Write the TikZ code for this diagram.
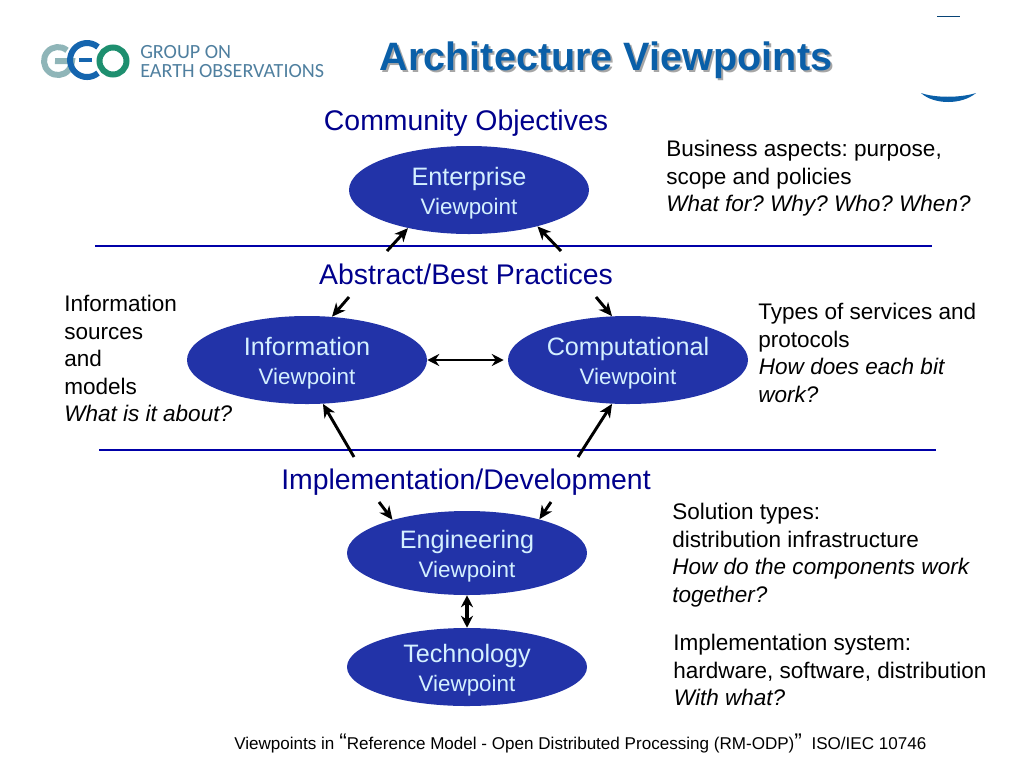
\documentclass[tikz,border=0pt]{standalone}
\usepackage{fontspec}
\setmainfont{Liberation Sans}
\newfontfamily\logofont{Carlito}
\usetikzlibrary{arrows.meta}
\usetikzlibrary{shapes.geometric}
\definecolor{vpblue}{HTML}{2233A8}
\definecolor{vptext}{HTML}{D4F0FF}
\definecolor{headblue}{HTML}{00008C}
\definecolor{ruleblue}{HTML}{0000A8}
\definecolor{titleblue}{HTML}{0A5FA8}
\definecolor{logotext}{HTML}{4F7F9F}
\definecolor{logogrey}{HTML}{8FB5B8}
\definecolor{logoblue}{HTML}{1565AE}
\definecolor{logogreen}{HTML}{1E8F6F}
\tikzset{
	viewpoint/.style={ellipse,fill=vpblue,text=vptext,inner sep=0pt,minimum width=180pt,minimum height=66pt,align=center,font=\fontsize{16.8}{21.7}\selectfont},
	heading/.style={text=headblue,inner sep=0pt,font=\fontsize{21.3}{25}\selectfont},
	note/.style={anchor=north west,align=left,inner sep=0pt,font=\frenchspacing\fontsize{16.9}{20.6}\selectfont},
	logoname/.style={anchor=base west,inner sep=0pt,text=logotext,font=\logofont\fontsize{15.1}{18}\selectfont},
	rule/.style={draw=ruleblue,line width=0.8pt},
	edge/.style={->,> = {Stealth[length=10pt,width=9pt,inset=3pt]},line width=2.2pt},
	both/.style={<->,> = {Stealth[length=9pt,width=9pt,inset=3pt]},line width=2.2pt}
}
\newcommand{\vpname}[2]{\raisebox{-7.5pt}[0pt][0pt]{\fontsize{18.9}{21.7}\selectfont #1}\\\raisebox{-7.5pt}[0pt][0pt]{#2}}

\begin{document}
\begin{tikzpicture}[x=0.75pt,y=-0.75pt]
	\useasboundingbox (0,0) rectangle (1024,768);
	% logo
	\draw[line width=4.5pt,color=logogrey] (67,50.3) arc (-50:-360:14) -- (55,61);
	\draw[line width=4.5pt,color=logoblue] (98,47) arc (-50:-310:17);
	\draw[line width=3pt,color=logoblue] (79,60) -- (92,60);
	\draw[line width=4.5pt,color=logogreen] (113,61) circle (13.5);
	\node[logoname] (logoa) at (140,58) {GROUP ON};
	\node[logoname] (logob) at (140,77) {EARTH OBSERVATIONS};
	% title
	\node[inner sep=0pt,text=gray!70,font=\bfseries\fontsize{29.7}{32}\selectfont] (titleshadow) at (608,62) {Architecture Viewpoints};
	\node[inner sep=0pt,text=titleblue,font=\bfseries\fontsize{29.7}{32}\selectfont] (title) at (606,60) {Architecture Viewpoints};
	% corner marks
	\fill[titleblue!70!black] (937,15.5) rectangle (960,16.5);
	\fill[titleblue] (921,93) .. controls (935,98) and (960,98) .. (976,93) .. controls (962,105) and (934,105) .. (921,93);
	% viewpoints
	\node[viewpoint] (enterprise) at (469,190) {\vpname{Enterprise}{Viewpoint}};
	\node[viewpoint] (information) at (307,360) {\vpname{Information}{Viewpoint}};
	\node[viewpoint] (computational) at (628,360) {\vpname{Computational}{Viewpoint}};
	\node[viewpoint,minimum height=63pt] (engineering) at (467,553) {\vpname{Engineering}{Viewpoint}};
	\node[viewpoint,minimum height=58.5pt] (technology) at (467,667) {\vpname{Technology}{Viewpoint}};
	% headings
	\node[heading] (objectives) at (466,123) {Community Objectives};
	\node[heading] (practices) at (466,274) {Abstract/Best Practices};
	\node[heading] (development) at (466,482) {Implementation/Development};
	% notes
	\node[note] (business) at (666,140) {Business aspects: purpose,\\scope and policies\\\textit{What for? Why? Who? When?}};
	\node[note] (sources) at (64,295) {Information\\sources\\and\\models\\\textit{What is it about?}};
	\node[note] (services) at (758,303) {Types of services and\\protocols\\\textit{\kern0.5pt How does each bit}\\\textit{work?}};
	\node[note] (solution) at (672,503) {Solution types:\\distribution infrastructure\\\textit{How do the components work}\\\textit{together?}};
	\node[note] (system) at (673,634) {Implementation system:\\hardware, software, distribution\\\textit{\kern0.5pt With what?}};
	\node[anchor=base west,inner sep=0pt,font=\fontsize{12.8}{15}\selectfont] (footer) at (234,749) {Viewpoints in {\fontsize{17}{15}\selectfont “}Reference Model - Open Distributed Processing (RM-ODP){\fontsize{17}{15}\selectfont ”}\ \ ISO/IEC 10746};
	% rules
	\coordinate (ruleal) at (95,246);
	\coordinate (rulear) at (932,246);
	\coordinate (rulebl) at (99,450);
	\coordinate (rulebr) at (936,450);
	\draw[rule] (ruleal) -- (rulear);
	\draw[rule] (rulebl) -- (rulebr);
	% free ends of the arrows
	\coordinate (a1) at (387,251);
	\coordinate (a2) at (561,251);
	\coordinate (a3) at (349,297);
	\coordinate (a4) at (596,297);
	\coordinate (a5) at (354,457);
	\coordinate (a6) at (578,457);
	\coordinate (a7) at (379,502);
	\coordinate (a8) at (551,502);
	\draw[edge] (a1) -- (enterprise.212);
	\draw[edge] (a2) -- (enterprise.332);
	\draw[edge] (a3) -- (information.60);
	\draw[edge] (a4) -- (computational.110);
	\draw[edge] (a5) -- (information.290);
	\draw[edge] (a6) -- (computational.250);
	\draw[edge] (a7) -- (engineering.156);
	\draw[edge] (a8) -- (engineering.25);
	\draw[both,shorten >=3pt] (information) -- (computational);
	\draw[both,line width=2.8pt] (engineering) -- (technology);
\end{tikzpicture}
\end{document}
